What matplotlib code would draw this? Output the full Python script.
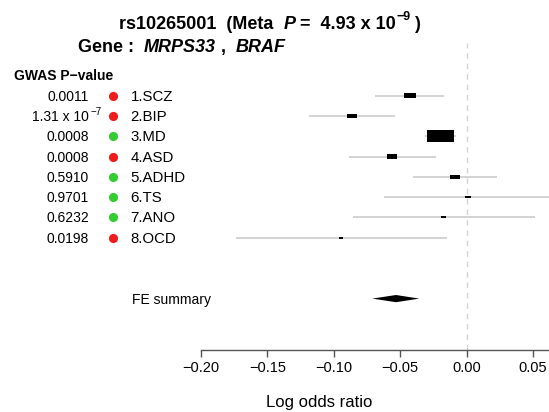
import matplotlib
matplotlib.use("Agg")
import matplotlib.pyplot as plt
from matplotlib.patches import Rectangle, Polygon
from matplotlib import transforms
import numpy as np

plt.rcParams["font.family"] = ["Liberation Sans", "DejaVu Sans"]

# ---- data ----
studies = ["1.SCZ", "2.BIP", "3.MD", "4.ASD", "5.ADHD", "6.TS", "7.ANO", "8.OCD"]
gwas_p = [0.0011, 1.31e-7, 0.0008, 0.0008, 0.5910, 0.9701, 0.6232, 0.0198]
dot_color = ["red", "red", "green", "red", "green", "green", "green", "red"]
log_or = [-0.0428, -0.0864, -0.0196, -0.0560, -0.0088, 0.0010, -0.0173, -0.0944]
ci_low = [-0.0688, -0.1185, -0.0311, -0.0884, -0.0404, -0.0620, -0.0859, -0.1737]
ci_high = [-0.0171, -0.0542, -0.0080, -0.0231, 0.0226, 0.0640, 0.0512, -0.0148]
summary_label = "FE summary"
summary_est = -0.0532
summary_low = -0.0711
summary_high = -0.0357
xticks = [-0.20, -0.15, -0.10, -0.05, 0.00, 0.05]
snp = "rs10265001"
meta_p_mant = "4.93"
meta_p_exp = "\u22129"
genes = ["MRPS33", "BRAF"]

W, H = 549, 412
fig = plt.figure(figsize=(W / 100, H / 100), dpi=100)


def fx(x):
    return x / W


def fy(y):
    return 1 - y / H


# forest panel: x from -0.20 to the right edge, rows top to bottom
row_gap = 20.29
top_px, bot_px = 43, 350
first_row_px = 95.7
ax = fig.add_axes([fx(201), fy(bot_px), 1 - fx(201), (bot_px - top_px) / H])
px_per_unit = 1328.0
xmax = (W - 466.7) / px_per_unit
ax.set_xlim(-0.20, xmax)
ax.set_ylim((bot_px - first_row_px) / row_gap, (top_px - first_row_px) / row_gap)

ax.axvline(0, color="#d4d4d4", lw=1.0, dashes=(4, 3.5), zorder=1)

colors = {"red": "#ee1c1c", "green": "#33cc33"}
rows = np.arange(len(studies))
se = (np.array(ci_high) - np.array(ci_low)) / (2 * 1.96)
box_w = 1.215e-4 / se                     # data units
box_h = box_w * px_per_unit / 2.3 / row_gap  # row units

for i in rows:
    ax.plot([ci_low[i], ci_high[i]], [i, i], color="#c8c8c8", lw=1.1,
            solid_capstyle="butt", zorder=2)
    ax.add_patch(Rectangle((log_or[i] - box_w[i] / 2, i - box_h[i] / 2),
                           box_w[i], box_h[i], facecolor="black",
                           edgecolor="none", zorder=3))

sum_row = 10
dh = 3.6 / row_gap
ax.add_patch(Polygon([(summary_low, sum_row), (summary_est, sum_row - dh),
                      (summary_high, sum_row), (summary_est, sum_row + dh)],
                     closed=True, facecolor="black", edgecolor="none", zorder=3))

for s in ["top", "left", "right"]:
    ax.spines[s].set_visible(False)
ax.spines["bottom"].set_color("#555555")
ax.spines["bottom"].set_linewidth(1.0)
ax.spines["bottom"].set_bounds(-0.20, xmax)
ax.set_yticks([])
ax.set_xticks(xticks)
ax.set_xticklabels([f"{t:.2f}".replace("-", "\u2212") for t in xticks], fontsize=10.5)
ax.tick_params(axis="x", length=5, width=1.0, color="#555555", pad=3)

fig.text(fx(319), fy(402.5), "Log odds ratio", ha="center", va="center", fontsize=12)

# left-hand columns
rowtrans = transforms.blended_transform_factory(fig.transFigure, ax.transData)
fig.text(fx(14), fy(76.5), "GWAS P\u2212value", ha="left", va="center",
         fontsize=10, fontweight="bold")
for i in rows:
    p = gwas_p[i]
    if p < 1e-4:
        exp = int(np.floor(np.log10(p)))
        mant = p / 10 ** exp
        fig.text(fx(89), i + 0.05, f"{mant:.2f} x 10", transform=rowtrans,
                 ha="right", va="center", fontsize=10)
        fig.text(fx(90.5), i - 0.18, f"\u2212{-exp}", transform=rowtrans,
                 ha="left", va="center", fontsize=7)
    else:
        fig.text(fx(89), i + 0.05, f"{p:.4f}", transform=rowtrans,
                 ha="right", va="center", fontsize=10)
    ax.plot([fx(112.7)], [i], marker="o", ms=6.6, mec="none",
            color=colors[dot_color[i]], transform=rowtrans, clip_on=False)
    fig.text(fx(130.5), i + 0.05, studies[i], transform=rowtrans,
             ha="left", va="center", fontsize=10.8)
fig.text(fx(132.5), sum_row + 0.05, summary_label, transform=rowtrans,
         ha="left", va="center", fontsize=10)

# mixed-style header lines
renderer = fig.canvas.get_renderer()


def rich_line(x_px, base_px, pieces, align="left"):
    objs = []
    for s, size, style, dy in pieces:
        t = fig.text(0, 0, s, fontsize=size, fontstyle=style, fontweight="bold",
                     ha="left", va="baseline")
        objs.append((t, dy))
    widths = [t.get_window_extent(renderer).width for t, _ in objs]
    x = x_px - (sum(widths) / 2 if align == "center" else 0)
    for (t, dy), w in zip(objs, widths):
        t.set_position((fx(x), fy(base_px - dy)))
        x += w


rich_line(270, 29, [
    (f"{snp}  (Meta  ", 13, "normal", 0),
    ("P", 13, "italic", 0),
    (f" =  {meta_p_mant} x 10", 13, "normal", 0),
    (meta_p_exp, 9, "normal", 9),
    (" )", 13, "normal", 0),
], align="center")

rich_line(78, 52.3, [
    ("Gene :  ", 13, "normal", 0),
    (genes[0], 13, "italic", 0),
    (" ,  ", 13, "normal", 0),
    (genes[1], 13, "italic", 0),
])

fig.savefig("out.png", dpi=100)
